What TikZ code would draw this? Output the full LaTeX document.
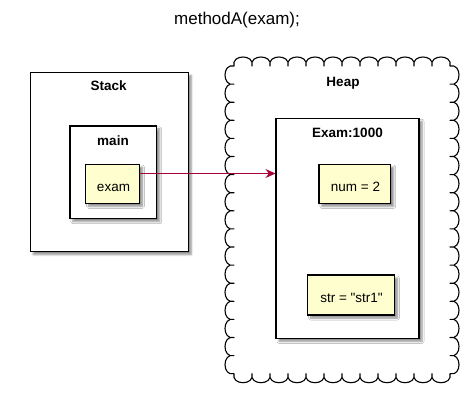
\documentclass[tikz,border=0pt]{standalone}
\usepackage{fontspec}
\setmainfont{Liberation Sans}
\newfontfamily\qfont{Liberation Sans}
\usetikzlibrary{arrows.meta,shadows.blur,calc}
\definecolor{notefill}{HTML}{FEFECE}
\definecolor{arrowred}{HTML}{A80036}
\tikzset{
  frame/.style={draw=black, line width=1.1pt, fill=white, inner sep=0pt,
    blur shadow={shadow xshift=3pt, shadow yshift=-3pt, shadow blur steps=6, shadow blur radius=2pt, shadow opacity=45}},
  var/.style={draw=black, line width=1.1pt, fill=notefill, inner sep=0pt,
    blur shadow={shadow xshift=3pt, shadow yshift=-3pt, shadow blur steps=6, shadow blur radius=2pt, shadow opacity=45}},
  lbl/.style={font=\fontsize{13.5}{15}\selectfont\bfseries, anchor=base, inner sep=0pt},
  txt/.style={font=\fontsize{13.5}{15}\selectfont, anchor=base, inner sep=0pt},
  ttl/.style={font=\fontsize{17}{19}\selectfont, anchor=base, inner sep=0pt},
  link/.style={draw=arrowred, line width=0.9pt, -{Stealth[length=10pt,width=9pt,inset=3.5pt]}}
}
\begin{document}
\begin{tikzpicture}[x=1pt,y=-1pt]
\useasboundingbox (0,0) rectangle (476,402);
% title
\node[ttl] (title) at (237,24) {methodA(exam);};
% Stack
\node[frame, minimum width=158pt, minimum height=179pt] (stack) at (109.2,162) {};
\node[lbl] (stacklbl) at (108.7,90.7) {Stack};
\node[frame, minimum width=86.7pt, minimum height=92.7pt] (main) at (113.3,172.3) {};
\node[lbl] (mainlbl) at (113,145) {main};
\node[var, minimum width=53.6pt, minimum height=39.3pt] (exam) at (112.5,183.7) {};
\node[txt] (examlbl) at (113.5,191) {exam};
% Heap cloud
\draw[line width=1.1pt, fill=white, line join=round] (234,66)
  \foreach \i in {1,...,12} { .. controls +(-3,-12) and +(3,-12) .. ++(18.0,0) }
  \foreach \i in {1,...,17} { .. controls +(12,-3) and +(12,3) .. ++(0,18.1) }
  \foreach \i in {1,...,12} { .. controls +(3,12) and +(-3,12) .. ++(-18.0,0) }
  \foreach \i in {1,...,17} { .. controls +(-12,3) and +(-12,-3) .. ++(0,-18.1) }
  -- cycle;
\node[lbl] (heaplbl) at (343,86) {Heap};
\node[frame, minimum width=143pt, minimum height=220pt] (obj) at (347.5,228.3) {};
\node[lbl] (objlbl) at (347.5,137.3) {Exam:1000};
\node[var, minimum width=71.7pt, minimum height=39.3pt] (num) at (354.8,183.7) {};
\node[txt] (numlbl) at (355.5,191.5) {num = 2};
\node[var, minimum width=86.6pt, minimum height=40pt] (str) at (351,295) {};
\node[txt] (strlbl) at (351.5,302) {\qfont str = "str1"};
% connector
\coordinate (a) at ($(exam.north east)+(0,10)$);
\draw[link] (a) -- (a -| obj.west);
\end{tikzpicture}
\end{document}
